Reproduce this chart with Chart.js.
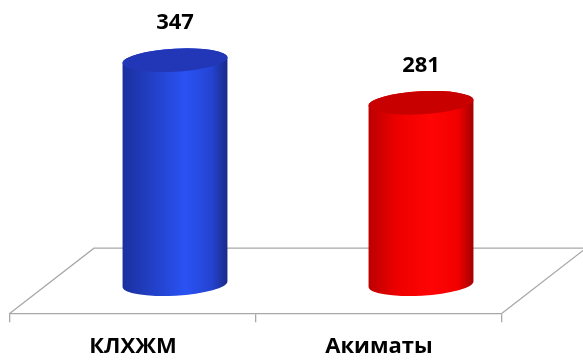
<!DOCTYPE html>
<html>
<head>
<meta charset="utf-8">
<script src="https://cdn.jsdelivr.net/npm/chart.js@4"></script>
<style>
  body { margin: 0; background: #fff; }
  #wrap { width: 583px; height: 361px; position: relative; }
</style>
</head>
<body>
<div id="wrap"><canvas id="cyl-chart"></canvas></div>
<script>
const categories = ['КЛХЖМ', 'Акиматы'];
const values = [347, 281];
// body gradient stops (left -> right) and the cap colour
const bodyStops = [
  ['#1b2f9e', '#2240c6', '#2a52f4', '#2443d0', '#1a2a88'],
  ['#bc0000', '#ee0000', '#ff0404', '#f20000', '#a40000']
];
const capColors = ['#2237b8', '#c80000'];

const lineColor = '#a8a8a8';
const depthX = 84, depthY = -65;   // floor depth
const barShiftX = 42, barShiftY = -29; // bars stand in the middle of the floor

function cylinder(ctx, cx, yTop, yBot, rx, ry, stops, cap) {
  const tilt = -0.055;
  const g = ctx.createLinearGradient(cx - rx, 0, cx + rx, 0);
  const pos = [0, 0.28, 0.6, 0.85, 1];
  stops.forEach((c, k) => g.addColorStop(pos[k], c));
  ctx.beginPath();
  ctx.ellipse(cx, yBot, rx, ry, tilt, 0, Math.PI);
  ctx.ellipse(cx, yTop, rx, ry, tilt, Math.PI, 2 * Math.PI);
  ctx.closePath();
  ctx.fillStyle = g;
  ctx.fill();

  ctx.beginPath();
  ctx.ellipse(cx, yTop, rx, ry, tilt, 0, 2 * Math.PI);
  ctx.fillStyle = cap;
  ctx.fill();
}

const cylinderPlugin = {
  id: 'cylinders',
  beforeDatasetsDraw(chart) {
    const ctx = chart.ctx;
    const a = chart.chartArea;
    ctx.save();
    ctx.strokeStyle = lineColor;
    ctx.lineWidth = 1.3;
    ctx.beginPath();
    ctx.moveTo(a.left, a.bottom);
    ctx.lineTo(a.left + depthX, a.bottom + depthY);
    ctx.lineTo(a.right + depthX, a.bottom + depthY);
    ctx.lineTo(a.right, a.bottom);
    ctx.stroke();
    ctx.restore();
  },
  afterDatasetsDraw(chart) {
    const ctx = chart.ctx;
    const meta = chart.getDatasetMeta(0);
    ctx.save();
    meta.data.forEach((bar, i) => {
      const cx = bar.x + barShiftX;
      const yTop = bar.y + barShiftY;
      const yBot = bar.base + barShiftY;
      cylinder(ctx, cx, yTop, yBot, bar.width / 2, 11.5, bodyStops[i], capColors[i]);
      ctx.fillStyle = '#000';
      ctx.font = 'bold 22px "Open Sans"';
      ctx.textAlign = 'center';
      ctx.textBaseline = 'middle';
      ctx.fillText(String(values[i]), cx, yTop - 37);
    });
    ctx.restore();
  }
};

const config = {
  type: 'bar',
  data: {
    labels: categories,
    datasets: [{
      data: values,
      backgroundColor: 'rgba(0,0,0,0)',
      borderWidth: 0,
      categoryPercentage: 1,
      barPercentage: 0.427
    }]
  },
  options: {
    responsive: true,
    maintainAspectRatio: false,
    animation: false,
    layout: {
      padding: { left: 10, right: 81, top: 55, bottom: -11 }
    },
    scales: {
      x: {
        grid: {
          offset: true,
          drawOnChartArea: false,
          drawTicks: true,
          tickLength: 9,
          color: lineColor,
          lineWidth: 1.3
        },
        border: { display: true, color: lineColor, width: 1.3 },
        ticks: {
          color: '#000',
          padding: 15,
          font: { family: '"Open Sans"', size: 22, weight: 'bold', lineHeight: 0.9 }
        }
      },
      y: {
        display: false,
        min: 0,
        max: 400
      }
    },
    plugins: {
      legend: { display: false },
      tooltip: { enabled: false }
    }
  },
  plugins: [cylinderPlugin]
};

const myChart = new Chart(document.getElementById('cyl-chart'), config);
</script>
</body>
</html>
